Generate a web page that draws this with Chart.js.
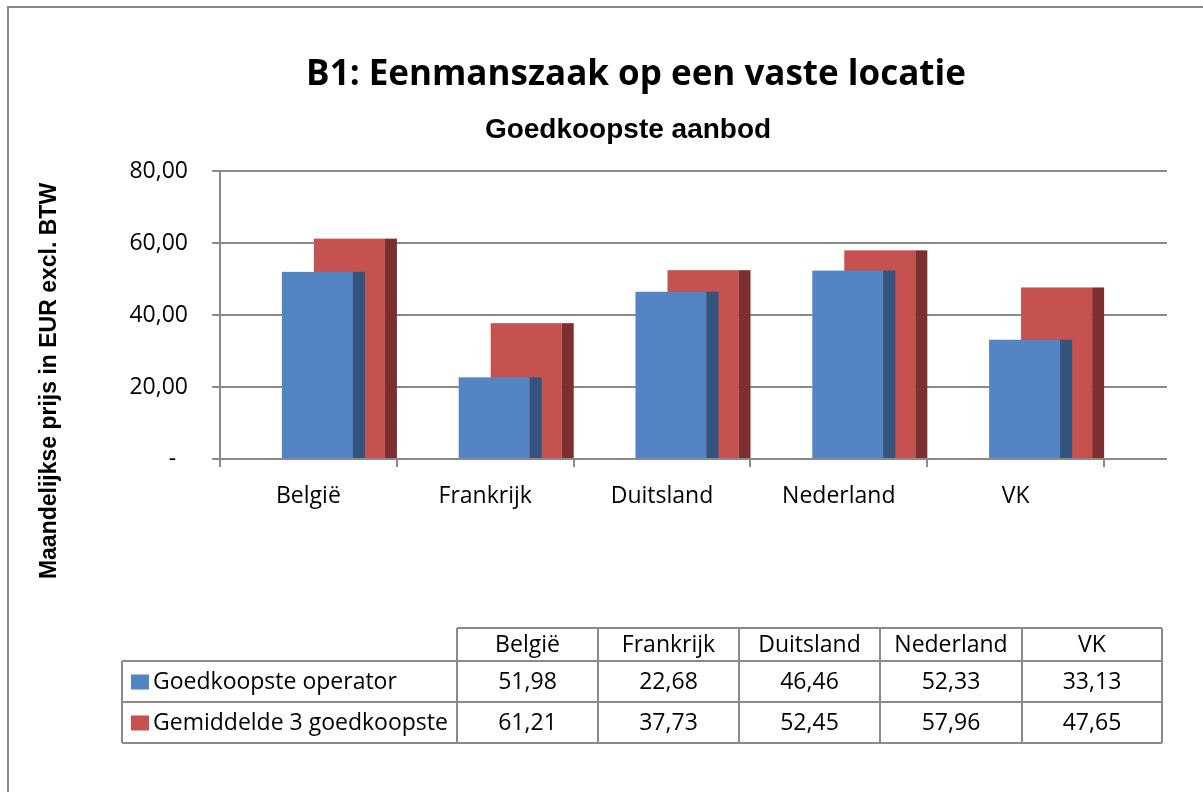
<!DOCTYPE html>
<html>
<head>
<meta charset="utf-8">
<script src="https://cdn.jsdelivr.net/npm/chart.js@4.4.1/dist/chart.umd.min.js"></script>
<style>
  html, body { margin: 0; padding: 0; background: #fff; }
  canvas { display: block; }
</style>
</head>
<body>
<canvas id="myChart" width="1203" height="792"></canvas>
<script>
// data
const countries = ['België', 'Frankrijk', 'Duitsland', 'Nederland', 'VK'];
const seriesNames = ['Goedkoopste operator', 'Gemiddelde 3 goedkoopste'];
const cheapest = [51.98, 22.68, 46.46, 52.33, 33.13];
const average3 = [61.21, 37.73, 52.45, 57.96, 47.65];
const yTicks = [0, 20, 40, 60, 80];

const frontColors = ['#5385c4', '#c5524f'];
const sideColors = ['#33547e', '#7d2f30'];
const gridColor = '#8a8a8a';
const fontMain = "'Open Sans', sans-serif";
const fontArial = "'Liberation Sans', Arial, sans-serif";

const fmt = v => v.toFixed(2).replace('.', ',');

// outer frame (top + left only) and the titles
const frame = {
    id: 'frame',
    beforeDraw(chart) {
        const { ctx } = chart;
        ctx.save();
        ctx.strokeStyle = '#878787';
        ctx.lineWidth = 2;
        ctx.beginPath();
        ctx.moveTo(8, chart.height);
        ctx.lineTo(8, 7);
        ctx.lineTo(chart.width, 7);
        ctx.stroke();

        ctx.fillStyle = '#000';
        ctx.textAlign = 'center';
        ctx.textBaseline = 'alphabetic';
        ctx.font = 'bold 35px ' + fontMain;
        ctx.fillText('B1: Eenmanszaak op een vaste locatie', 636, 85);
        ctx.font = 'bold 28px ' + fontArial;
        ctx.fillText('Goedkoopste aanbod', 628, 138);

        // y axis title
        ctx.translate(56, 381);
        ctx.rotate(-Math.PI / 2);
        ctx.font = 'bold 23px ' + fontArial;
        ctx.fillText('Maandelijkse prijs in EUR excl. BTW', 0, 0);
        ctx.restore();
    }
};

// gridlines run on past the last category (back wall depth)
const wallDepth = {
    id: 'wallDepth',
    beforeDatasetsDraw(chart) {
        const { ctx, chartArea: { right }, scales: { y } } = chart;
        ctx.save();
        ctx.strokeStyle = gridColor;
        ctx.lineWidth = 2;
        y.ticks.forEach(t => {
            const py = Math.round(y.getPixelForValue(t.value));
            ctx.beginPath();
            ctx.moveTo(right - 1, py);
            ctx.lineTo(right + 63, py);
            ctx.stroke();
        });
        ctx.restore();
    }
};

// 3D-ish columns: front face + dark side, red one sits behind
const columns3d = {
    id: 'columns3d',
    beforeDatasetDraw() { return false; },
    afterDatasetsDraw(chart) {
        const { ctx } = chart;
        const shift = 25, depth = 12;
        ctx.save();
        [1, 0].forEach(di => {
            chart.getDatasetMeta(di).data.forEach(bar => {
                const { x, y, base, width } = bar.getProps(['x', 'y', 'base', 'width'], true);
                const left = x - width / 2 + shift;
                ctx.fillStyle = frontColors[di];
                ctx.fillRect(left, y, width, base - y);
                ctx.fillStyle = sideColors[di];
                ctx.fillRect(left + width, y, depth, base - y);
            });
        });
        ctx.restore();
    }
};

// data table under the chart
const dataTable = {
    id: 'dataTable',
    afterDraw(chart) {
        const { ctx } = chart;
        const colX = [457, 598, 739, 880, 1022, 1162];
        const legendLeft = 122;
        const rowY = [628, 661, 702, 743];
        ctx.save();
        ctx.strokeStyle = gridColor;
        ctx.lineWidth = 2;
        ctx.beginPath();
        ctx.moveTo(colX[0], rowY[0]); ctx.lineTo(colX[5], rowY[0]);
        for (let r = 1; r < rowY.length; r++) {
            ctx.moveTo(legendLeft, rowY[r]); ctx.lineTo(colX[5], rowY[r]);
        }
        colX.forEach(cx => { ctx.moveTo(cx, rowY[0]); ctx.lineTo(cx, rowY[3]); });
        ctx.moveTo(legendLeft, rowY[1]); ctx.lineTo(legendLeft, rowY[3]);
        ctx.stroke();

        ctx.font = '23px ' + fontMain;
        ctx.fillStyle = '#000';
        ctx.textBaseline = 'middle';
        ctx.textAlign = 'center';
        countries.forEach((c, i) => {
            const cx = (colX[i] + colX[i + 1]) / 2;
            ctx.fillText(c, cx, (rowY[0] + rowY[1]) / 2 + 1);
            ctx.fillText(fmt(cheapest[i]), cx, (rowY[1] + rowY[2]) / 2 + 1);
            ctx.fillText(fmt(average3[i]), cx, (rowY[2] + rowY[3]) / 2 + 1);
        });
        ctx.textAlign = 'left';
        seriesNames.forEach((name, i) => {
            const cy = (rowY[i + 1] + rowY[i + 2]) / 2;
            ctx.fillStyle = frontColors[i];
            ctx.fillRect(131, cy - 7, 18, 15);
            ctx.fillStyle = '#000';
            ctx.fillText(name, 153, cy + 1);
        });
        ctx.restore();
    }
};

const data = {
    labels: countries,
    datasets: [
        { label: seriesNames[0], data: cheapest, backgroundColor: frontColors[0] },
        { label: seriesNames[1], data: average3, backgroundColor: frontColors[1] }
    ]
};

const config = {
    type: 'bar',
    data,
    options: {
        responsive: false,
        animation: false,
        devicePixelRatio: 1,
        categoryPercentage: 0.362,
        barPercentage: 2.22,
        layout: {
            padding: { left: 90, right: 99, top: 171, bottom: 273 }
        },
        scales: {
            x: {
                grid: {
                    display: true,
                    drawOnChartArea: false,
                    tickLength: 8,
                    color: gridColor,
                    lineWidth: 2
                },
                border: { display: true, color: gridColor, width: 2 },
                ticks: {
                    font: { family: fontMain, size: 23 },
                    color: '#000',
                    padding: 16
                },
                afterFit(scale) { scale.height = 60; }
            },
            y: {
                min: 0,
                max: 80,
                afterBuildTicks(scale) { scale.ticks = yTicks.map(v => ({ value: v })); },
                grid: { color: gridColor, lineWidth: 2, tickLength: 8 },
                border: { display: true, color: gridColor, width: 2 },
                ticks: {
                    font: { family: fontMain, size: 23 },
                    color: '#000',
                    padding: 24,
                    callback: v => v === 0 ? '-  ' : fmt(v)
                },
                afterFit(scale) { scale.width = 130; }
            }
        },
        plugins: {
            legend: { display: false },
            tooltip: { enabled: false },
            title: { display: false },
            subtitle: { display: false }
        }
    },
    plugins: [frame, wallDepth, columns3d, dataTable]
};

const myChart = new Chart(document.getElementById('myChart'), config);
</script>
</body>
</html>
